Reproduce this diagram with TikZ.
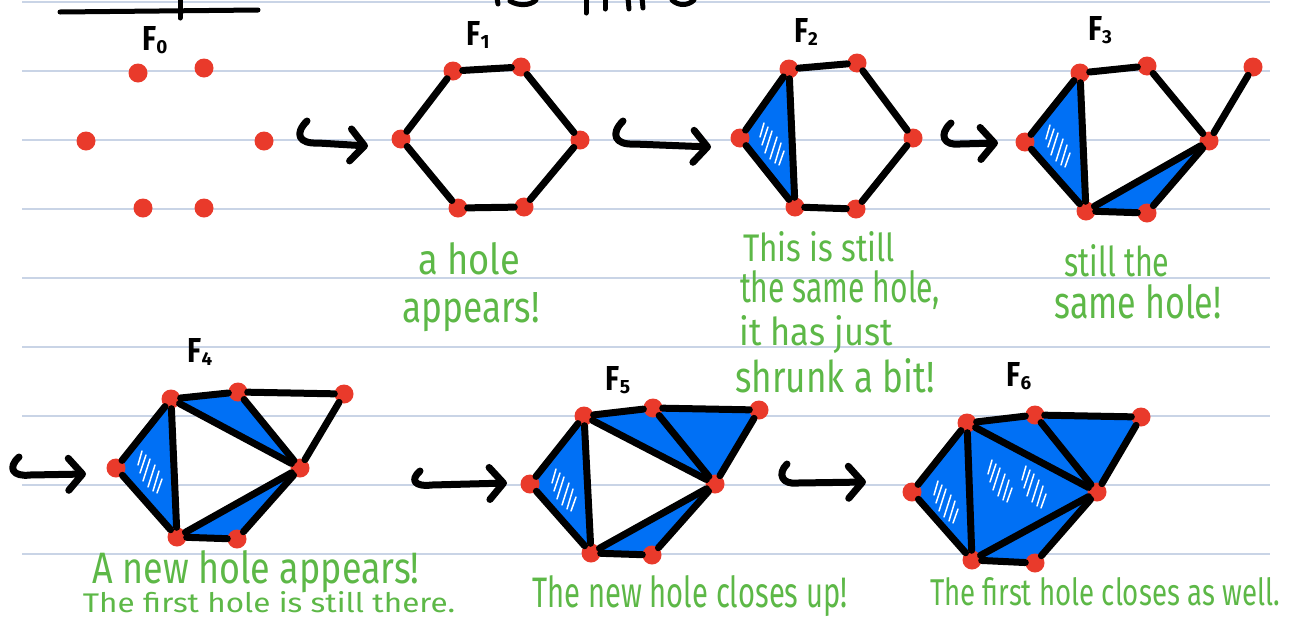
\documentclass[tikz,border=0pt]{standalone}
\usepackage{fontspec}
\setmainfont{Fira Sans}
\usetikzlibrary{arrows.meta}
\definecolor{rulecol}{HTML}{C9D4E6}
\definecolor{dotred}{HTML}{E93A2B}
\definecolor{fillblue}{HTML}{0070F5}
\definecolor{handgreen}{HTML}{5DB847}
\pgfdeclarelayer{bg}
\pgfsetlayers{bg,main}
\newcommand\hw[3]{\resizebox{#1pt}{#2pt}{#3}}
\newcommand\flabel[1]{\resizebox{14pt}{24pt}{\bfseries F}\raisebox{-3pt}{\resizebox{!}{13pt}{\bfseries #1}}}
\begin{document}
\begin{tikzpicture}[x=1pt,y=-1pt,
  vtx/.style={circle,fill=dotred,draw=none,inner sep=0pt,minimum size=19pt},
  edge/.style={line width=7pt,line cap=round,black},
  face/.style={fill=fillblue},
  scrib/.style={white,line width=1.5pt,line cap=round},
  hook/.style={line width=7pt,line cap=round,line join=round,
    -{Straight Barb[length=14pt,width=32pt,round]}},
  note/.style={text=handgreen,inner sep=0pt,anchor=base},
  flab/.style={inner sep=0pt},
  rulestyle/.style={rulecol,line width=1.5pt},
  frag/.style={line width=5pt,line cap=round,black},
  scribble/.pic={\draw[scrib] (-9,8) -- (-2,-14) (-4,14) -- (3,-8) (1,18) -- (7,-2) (5,20) -- (10,6) (-12,0) -- (-6,-18) (-14,-8) -- (-10,-22);}]
\useasboundingbox (0,0) rectangle (1293,619);
\begin{pgfonlayer}{bg}
\fill[white] (0,0) rectangle (1293,619);
\foreach \yy in {2,71,140,209,278,347,416,485,554}{\draw[rulestyle] (22,\yy) -- (1270,\yy);}
\end{pgfonlayer}

% top fragments (cut-off heading)
\draw[frag] (60,12) -- (258,10);
\draw[frag] (180,-2) -- (180,18);
\draw[frag] (586,-2) -- (586,13);
\draw[frag] (605,-2) -- (605,9);
\draw[frag] (628,-2) -- (629,9);
\draw[frag] (642,-2) -- (643,8);
\draw[frag] (497,-2) -- (498,4);
\draw[frag] (510,1) .. controls (518,6) and (530,6) .. (536,0);
\draw[frag] (672,0) .. controls (678,6) and (688,6) .. (694,0);

% ---------- F0 ----------
\node[flab] (l0) at (155,40) {\flabel{0}};
\node[vtx] (f0a) at (138,73) {};
\node[vtx] (f0b) at (204,68) {};
\node[vtx] (f0c) at (86,141) {};
\node[vtx] (f0d) at (264,141) {};
\node[vtx] (f0e) at (143,208) {};
\node[vtx] (f0f) at (204,208) {};

\coordinate (h1s) at (307,121);
\coordinate (h1e) at (368,146);
\draw[hook] (h1s) .. controls (294,134) and (299,144) .. (318,143) -- (h1e);

% ---------- F1 ----------
\node[flab] (l1) at (478,35) {\flabel{1}};
\node[vtx] (f1tl) at (453,71) {};
\node[vtx] (f1tr) at (521,67) {};
\node[vtx] (f1r) at (580,140) {};
\node[vtx] (f1br) at (524,207) {};
\node[vtx] (f1bl) at (458,208) {};
\node[vtx] (f1l) at (401,139) {};
\draw[edge] (f1tl) -- (f1tr);
\draw[edge] (f1tr) -- (f1r);
\draw[edge] (f1r) -- (f1br);
\draw[edge] (f1br) -- (f1bl);
\draw[edge] (f1bl) -- (f1l);
\draw[edge] (f1l) -- (f1tl);

\coordinate (h2s) at (623,121);
\coordinate (h2e) at (711,147);
\draw[hook] (h2s) .. controls (610,134) and (615,145) .. (634,144) -- (h2e);

% ---------- F2 ----------
\node[flab] (l2) at (806,32) {\flabel{2}};
\node[vtx] (f2tl) at (789,69) {};
\node[vtx] (f2tr) at (857,63) {};
\node[vtx] (f2r) at (913,138) {};
\node[vtx] (f2br) at (856,209) {};
\node[vtx] (f2bl) at (795,207) {};
\node[vtx] (f2l) at (740,138) {};
\begin{pgfonlayer}{bg}
\fill[face] (f2l.center) -- (f2tl.center) -- (f2bl.center) -- cycle;
\end{pgfonlayer}
\pic at (774,145) {scribble};
\draw[edge] (f2tl) -- (f2tr);
\draw[edge] (f2tr) -- (f2r);
\draw[edge] (f2r) -- (f2br);
\draw[edge] (f2br) -- (f2bl);
\draw[edge] (f2bl) -- (f2l);
\draw[edge] (f2l) -- (f2tl);
\draw[edge] (f2tl) -- (f2bl);

\coordinate (h3s) at (951,123);
\coordinate (h3e) at (998,143);
\draw[hook] (h3s) .. controls (938,135) and (944,146) .. (960,144) -- (h3e);

% ---------- F3 ----------
\node[flab] (l3) at (1100,30) {\flabel{3}};
\node[vtx] (f3tl) at (1080,73) {};
\node[vtx] (f3tr) at (1147,66) {};
\node[vtx] (f3r) at (1209,141) {};
\node[vtx] (f3br) at (1147,213) {};
\node[vtx] (f3bl) at (1086,211) {};
\node[vtx] (f3l) at (1025,142) {};
\node[vtx] (f3p) at (1253,67) {};
\begin{pgfonlayer}{bg}
\fill[face] (f3l.center) -- (f3tl.center) -- (f3bl.center) -- cycle;
\fill[face] (f3bl.center) -- (f3r.center) -- (f3br.center) -- cycle;
\end{pgfonlayer}
\pic at (1060,147) {scribble};
\draw[edge] (f3tl) -- (f3tr);
\draw[edge] (f3tr) -- (f3r);
\draw[edge] (f3r) -- (f3br);
\draw[edge] (f3br) -- (f3bl);
\draw[edge] (f3bl) -- (f3l);
\draw[edge] (f3l) -- (f3tl);
\draw[edge] (f3tl) -- (f3bl);
\draw[edge] (f3bl) -- (f3r);
\draw[edge] (f3r) -- (f3p);

% ---------- F4 ----------
\node[flab] (l4) at (200,352) {\flabel{4}};
\node[vtx] (f4l) at (116,468) {};
\node[vtx] (f4tl) at (171,399) {};
\node[vtx] (f4t) at (238,392) {};
\node[vtx] (f4p) at (344,394) {};
\node[vtx] (f4r) at (300,468) {};
\node[vtx] (f4bb) at (237,539) {};
\node[vtx] (f4bl) at (177,537) {};
\begin{pgfonlayer}{bg}
\fill[face] (f4l.center) -- (f4tl.center) -- (f4bl.center) -- cycle;
\fill[face] (f4tl.center) -- (f4t.center) -- (f4r.center) -- cycle;
\fill[face] (f4bl.center) -- (f4r.center) -- (f4bb.center) -- cycle;
\end{pgfonlayer}
\pic at (152,473) {scribble};
\draw[edge] (f4l) -- (f4tl);
\draw[edge] (f4tl) -- (f4t);
\draw[edge] (f4t) -- (f4p);
\draw[edge] (f4p) -- (f4r);
\draw[edge] (f4t) -- (f4r);
\draw[edge] (f4tl) -- (f4r);
\draw[edge] (f4r) -- (f4bb);
\draw[edge] (f4bb) -- (f4bl);
\draw[edge] (f4bl) -- (f4l);
\draw[edge] (f4tl) -- (f4bl);
\draw[edge] (f4bl) -- (f4r);

\coordinate (h4s) at (19,457);
\coordinate (h4e) at (86,474);
\draw[hook] (h4s) .. controls (7,468) and (13,477) .. (30,475) -- (h4e);

% ---------- F5 ----------
\node[flab] (l5) at (618,380) {\flabel{5}};
\node[vtx] (f5l) at (530,484) {};
\node[vtx] (f5tl) at (584,416) {};
\node[vtx] (f5t) at (653,408) {};
\node[vtx] (f5p) at (759,410) {};
\node[vtx] (f5r) at (715,484) {};
\node[vtx] (f5bb) at (652,555) {};
\node[vtx] (f5bl) at (591,553) {};
\begin{pgfonlayer}{bg}
\fill[face] (f5l.center) -- (f5tl.center) -- (f5bl.center) -- cycle;
\fill[face] (f5tl.center) -- (f5t.center) -- (f5r.center) -- cycle;
\fill[face] (f5t.center) -- (f5p.center) -- (f5r.center) -- cycle;
\fill[face] (f5bl.center) -- (f5r.center) -- (f5bb.center) -- cycle;
\end{pgfonlayer}
\pic at (566,491) {scribble};
\draw[edge] (f5l) -- (f5tl);
\draw[edge] (f5tl) -- (f5t);
\draw[edge] (f5t) -- (f5p);
\draw[edge] (f5p) -- (f5r);
\draw[edge] (f5t) -- (f5r);
\draw[edge] (f5tl) -- (f5r);
\draw[edge] (f5r) -- (f5bb);
\draw[edge] (f5bb) -- (f5bl);
\draw[edge] (f5bl) -- (f5l);
\draw[edge] (f5tl) -- (f5bl);
\draw[edge] (f5bl) -- (f5r);

\coordinate (h5s) at (420,471);
\coordinate (h5e) at (507,483);
\draw[hook] (h5s) .. controls (410,480) and (414,487) .. (432,485) -- (h5e);

% ---------- F6 ----------
\node[flab] (l6) at (1019,376) {\flabel{6}};
\node[vtx] (f6l) at (912,492) {};
\node[vtx] (f6tl) at (967,423) {};
\node[vtx] (f6t) at (1035,415) {};
\node[vtx] (f6p) at (1141,417) {};
\node[vtx] (f6r) at (1097,492) {};
\node[vtx] (f6bb) at (1035,563) {};
\node[vtx] (f6bl) at (972,560) {};
\begin{pgfonlayer}{bg}
\fill[face] (f6l.center) -- (f6tl.center) -- (f6bl.center) -- cycle;
\fill[face] (f6tl.center) -- (f6t.center) -- (f6r.center) -- cycle;
\fill[face] (f6t.center) -- (f6p.center) -- (f6r.center) -- cycle;
\fill[face] (f6bl.center) -- (f6r.center) -- (f6bb.center) -- cycle;
\fill[face] (f6tl.center) -- (f6r.center) -- (f6bl.center) -- cycle;
\end{pgfonlayer}
\pic at (948,503) {scribble};
\pic at (1002,482) {scribble};
\pic at (1036,488) {scribble};
\draw[edge] (f6l) -- (f6tl);
\draw[edge] (f6tl) -- (f6t);
\draw[edge] (f6t) -- (f6p);
\draw[edge] (f6p) -- (f6r);
\draw[edge] (f6t) -- (f6r);
\draw[edge] (f6tl) -- (f6r);
\draw[edge] (f6r) -- (f6bb);
\draw[edge] (f6bb) -- (f6bl);
\draw[edge] (f6bl) -- (f6l);
\draw[edge] (f6tl) -- (f6bl);
\draw[edge] (f6bl) -- (f6r);

\coordinate (h6s) at (787,464);
\coordinate (h6e) at (866,482);
\draw[hook] (h6s) .. controls (777,474) and (782,485) .. (798,483) -- (h6e);

% ---------- green notes ----------
\node[note] (n1) at (469,274) {\hw{102}{32}{a hole}};
\node[note] (n2) at (471,322) {\hw{137}{30}{appears!}};
\node[note] (n3) at (819,261) {\hw{152}{30}{This is still}};
\node[note] (n4) at (840,302) {\hw{200}{32}{the same hole,}};
\node[note] (n5) at (816,345) {\hw{153}{30}{it has just}};
\node[note] (n6) at (835,392) {\hw{199}{34}{shrunk a bit!}};
\node[note] (n7) at (1117,276) {\hw{105}{32}{still the}};
\node[note] (n8) at (1138,318) {\hw{167}{34}{same hole!}};
\node[note] (n9) at (256,583) {\hw{327}{33}{A new hole appears!}};
\node[note] (n10) at (269,612) {\hw{372}{21}{The first hole is still there.}};
\node[note] (n11) at (690,607) {\hw{315}{32}{The new hole closes up!}};
\node[note] (n12) at (1105,605) {\hw{350}{28}{The first hole closes as well.}};
\end{tikzpicture}
\end{document}
